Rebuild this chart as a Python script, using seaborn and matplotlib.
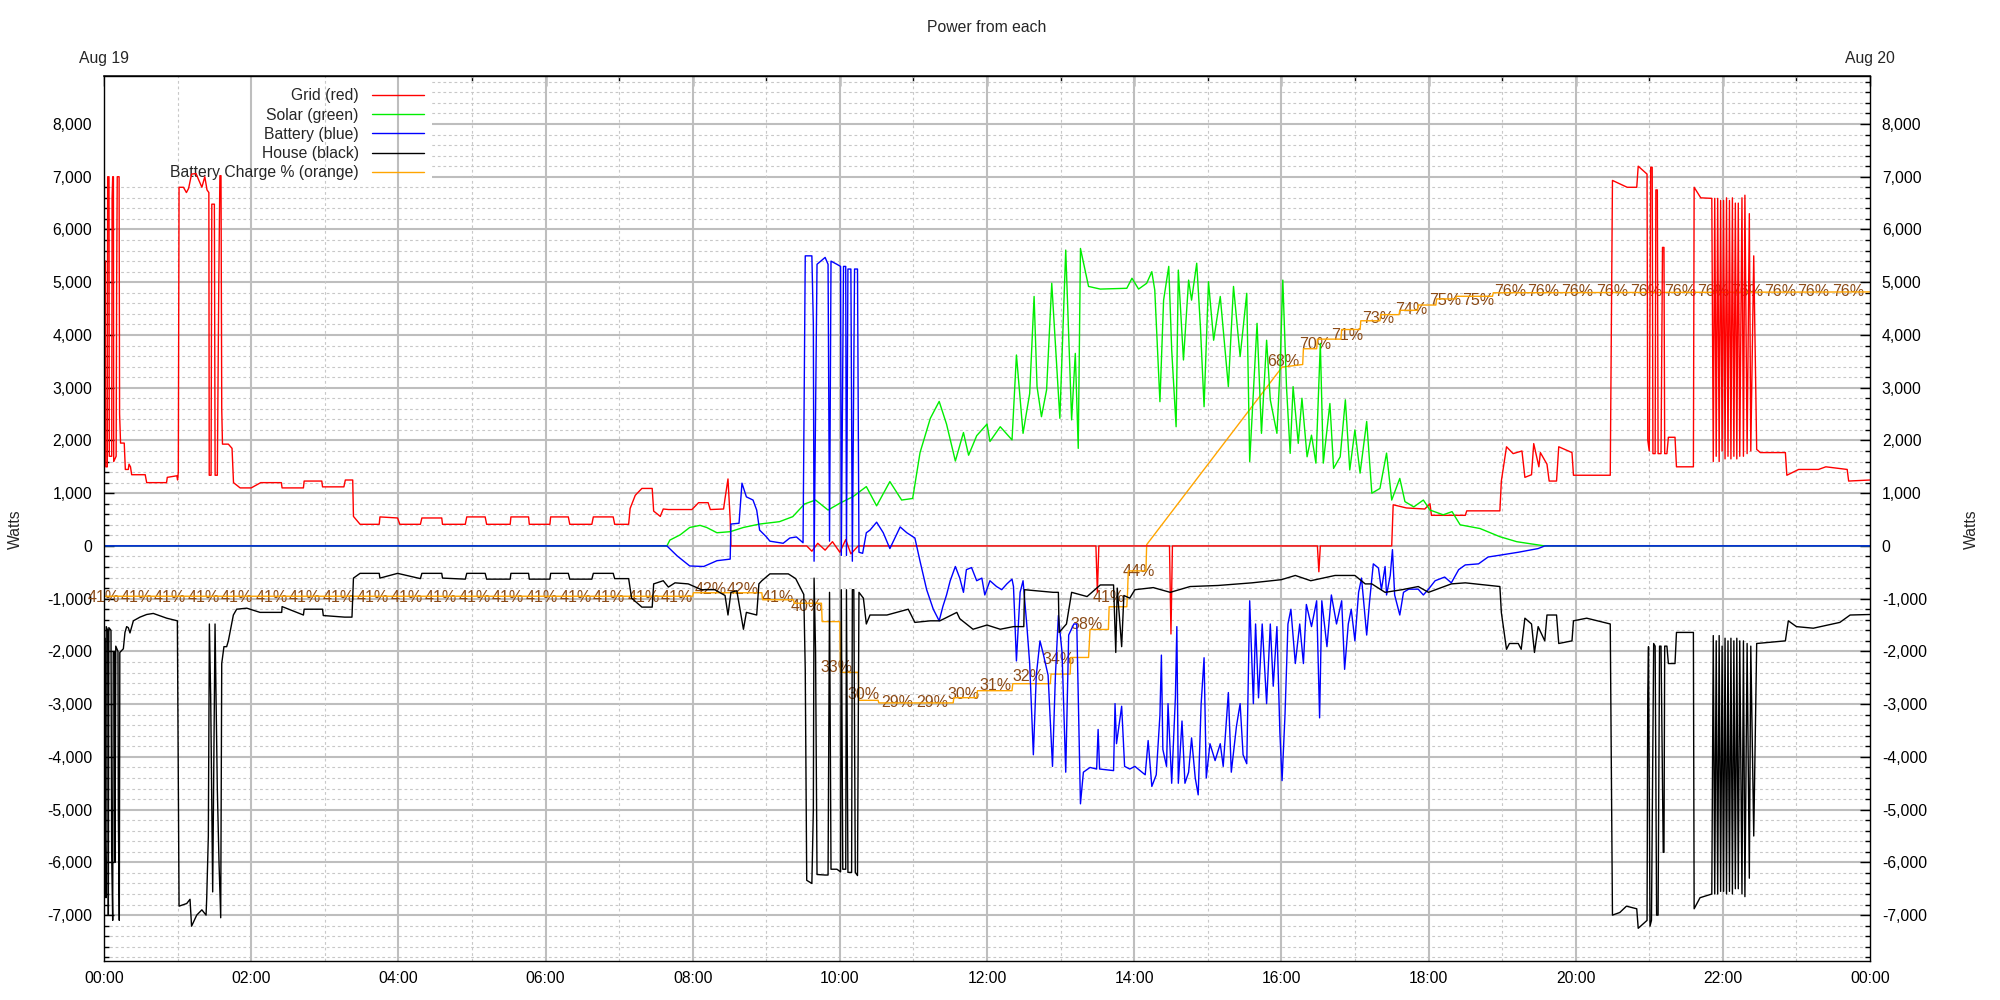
import numpy as np
import pandas as pd
import seaborn as sns
import matplotlib.pyplot as plt
from matplotlib.ticker import MultipleLocator, FuncFormatter
from matplotlib.patches import Rectangle

# Hours since midnight (Aug 19) and Watts
grid_t = [0.000, 0.020, 0.024, 0.045, 0.050, 0.068, 0.072, 0.105, 0.110, 0.118, 0.128, 0.132, 0.165, 0.172,
          0.180, 0.205, 0.212, 0.225, 0.275, 0.290, 0.330, 0.340, 0.360, 0.376, 0.560, 0.580, 0.850, 0.860,
          0.990, 1.000, 1.010, 1.020, 1.080, 1.120, 1.150, 1.190, 1.250, 1.300, 1.330, 1.370, 1.400, 1.425,
          1.430, 1.455, 1.465, 1.500, 1.510, 1.540, 1.560, 1.575, 1.590, 1.600, 1.610, 1.690, 1.740, 1.760,
          1.850, 2.000, 2.130, 2.410, 2.420, 2.710, 2.720, 2.960, 2.970, 3.260, 3.280, 3.380, 3.390, 3.480,
          3.740, 3.750, 3.990, 4.020, 4.300, 4.320, 4.590, 4.600, 4.910, 4.930, 5.180, 5.200, 5.520, 5.530,
          5.770, 5.780, 6.060, 6.070, 6.310, 6.330, 6.630, 6.650, 6.920, 6.940, 7.130, 7.150, 7.220, 7.310,
          7.450, 7.470, 7.560, 7.600, 7.670, 7.990, 8.080, 8.210, 8.240, 8.420, 8.440, 8.480, 8.510, 8.520,
          9.550, 9.620, 9.700, 9.800, 9.900, 10.000, 10.080, 10.150, 10.250, 13.480, 13.500, 13.520, 14.480,
          14.500, 14.520, 16.490, 16.510, 16.530, 17.500, 17.520, 17.700, 17.950, 18.020, 18.040, 18.500,
          18.520, 18.970, 18.990, 19.060, 19.150, 19.270, 19.310, 19.400, 19.430, 19.500, 19.520, 19.610,
          19.640, 19.740, 19.770, 19.950, 19.970, 20.470, 20.500, 20.700, 20.830, 20.850, 20.970, 20.980,
          21.000, 21.020, 21.040, 21.050, 21.080, 21.090, 21.110, 21.120, 21.160, 21.180, 21.200, 21.210,
          21.240, 21.260, 21.350, 21.370, 21.600, 21.610, 21.700, 21.850, 21.870, 21.890, 21.910, 21.930,
          21.950, 21.970, 21.990, 22.010, 22.030, 22.050, 22.070, 22.090, 22.110, 22.130, 22.150, 22.170,
          22.190, 22.210, 22.230, 22.260, 22.280, 22.300, 22.330, 22.360, 22.380, 22.420, 22.460, 22.510,
          22.850, 22.870, 23.030, 23.300, 23.400, 23.690, 23.710, 24.000]
grid_w = [5400, 5400, 1500, 1500, 7000, 7000, 1700, 1700, 6600, 7000, 7000, 1600, 1700, 5000,
          7000, 7000, 2500, 1950, 1950, 1450, 1450, 1550, 1500, 1350, 1350, 1200, 1200, 1300,
          1330, 1250, 1400, 6800, 6800, 6700, 6780, 7050, 7060, 6900, 6800, 7000, 6750, 6700,
          1340, 1340, 6480, 6480, 1340, 1340, 5000, 7020, 7020, 2600, 1930, 1930, 1850, 1200,
          1100, 1100, 1200, 1200, 1100, 1100, 1230, 1230, 1120, 1120, 1250, 1250, 560, 410,
          410, 550, 530, 410, 410, 530, 530, 410, 410, 550, 550, 410, 410, 550,
          550, 410, 410, 550, 550, 410, 410, 550, 550, 410, 410, 710, 960, 1090,
          1090, 660, 560, 700, 690, 690, 820, 820, 690, 700, 900, 1270, 500, 0,
          0, -100, 50, -80, 80, -120, 120, -150, 0, 0, -880, 0, 0,
          -1670, 0, 0, -490, 0, 0, 780, 720, 700, 800, 580, 580,
          665, 665, 1230, 1880, 1750, 1800, 1300, 1350, 1940, 1500, 1770, 1550,
          1230, 1230, 1880, 1770, 1340, 1340, 6930, 6800, 6800, 7200, 7050, 2000,
          1800, 7180, 7180, 1750, 1750, 6750, 6750, 1750, 1750, 5660, 5660, 1750,
          1750, 2060, 2060, 1500, 1500, 6800, 6600, 6590, 1600, 6590, 1700, 6590,
          1600, 6550, 1800, 6550, 1650, 6600, 1700, 6550, 1650, 6600, 1700, 6500,
          1650, 6500, 1700, 6600, 1700, 6650, 1750, 6300, 1800, 5500, 1830, 1770,
          1770, 1340, 1450, 1450, 1500, 1450, 1230, 1250]

solar_t = [0.00, 7.65, 7.69, 7.83, 7.96, 8.10, 8.19, 8.33, 8.51, 8.69, 8.91, 9.18, 9.36, 9.52, 9.67, 9.84,
           10.00, 10.18, 10.36, 10.50, 10.68, 10.84, 10.99, 11.09, 11.23, 11.35, 11.45, 11.57, 11.68, 11.75,
           11.86, 12.00, 12.04, 12.18, 12.34, 12.40, 12.49, 12.58, 12.64, 12.68, 12.74, 12.81, 12.88, 12.99,
           13.07, 13.15, 13.20, 13.24, 13.27, 13.38, 13.54, 13.90, 13.97, 14.06, 14.17, 14.24, 14.28, 14.35,
           14.40, 14.47, 14.51, 14.57, 14.60, 14.67, 14.74, 14.78, 14.85, 14.90, 14.95, 15.01, 15.08, 15.17,
           15.28, 15.35, 15.44, 15.53, 15.57, 15.67, 15.73, 15.80, 15.85, 15.94, 15.98, 16.02, 16.07, 16.12,
           16.16, 16.23, 16.28, 16.35, 16.41, 16.47, 16.53, 16.57, 16.66, 16.71, 16.80, 16.87, 16.93, 17.00,
           17.07, 17.16, 17.23, 17.34, 17.43, 17.50, 17.61, 17.68, 17.80, 17.93, 18.02, 18.20, 18.32, 18.43,
           18.70, 18.97, 19.20, 19.58, 24.00]
solar_w = [0, 0, 110, 210, 350, 390, 350, 250, 270, 350, 415, 460, 555, 795, 870, 680,
           810, 935, 1125, 760, 1220, 870, 900, 1770, 2420, 2740, 2310, 1610, 2150, 1720,
           2090, 2310, 1980, 2260, 2010, 3620, 2135, 2890, 4730, 3020, 2450, 2960, 4980, 2420,
           5610, 2390, 3650, 1850, 5640, 4920, 4870, 4885, 5075, 4870, 4980, 5200, 4850, 2735,
           4660, 5300, 3715, 2260, 5230, 3525, 5040, 4660, 5360, 4160, 2640, 5010, 3900, 4730,
           3020, 4920, 3590, 4790, 1600, 4220, 2135, 3900, 2770, 2135, 3270, 5040, 3020, 1755,
           3020, 1945, 2800, 1690, 2100, 1570, 3840, 1570, 2700, 1470, 1690, 2770, 1440, 2200,
           1380, 2360, 1000, 1090, 1760, 870, 1280, 840, 740, 870, 680, 590, 650, 400,
           330, 175, 80, 0, 0]

battery_t = [0.00, 7.65, 7.79, 7.96, 8.15, 8.33, 8.51, 8.52, 8.63, 8.67, 8.73, 8.82, 8.87, 8.91, 9.00, 9.05,
             9.23, 9.32, 9.41, 9.50, 9.53, 9.62, 9.64, 9.65, 9.69, 9.80, 9.84, 9.85, 9.86, 9.88, 9.96,
             10.01, 10.02, 10.05, 10.08, 10.09, 10.11, 10.15, 10.17, 10.20, 10.24, 10.26, 10.31, 10.36, 10.41,
             10.50, 10.59, 10.68, 10.82, 10.91, 11.02, 11.09, 11.18, 11.27, 11.35, 11.40, 11.45, 11.50, 11.57,
             11.63, 11.68, 11.72, 11.79, 11.86, 11.93, 11.97, 12.04, 12.13, 12.20, 12.27, 12.34, 12.36, 12.40,
             12.45, 12.49, 12.54, 12.58, 12.63, 12.67, 12.72, 12.76, 12.83, 12.89, 12.93, 12.97, 13.02, 13.07,
             13.11, 13.18, 13.22, 13.27, 13.31, 13.40, 13.49, 13.51, 13.53, 13.72, 13.74, 13.76, 13.83, 13.87,
             13.94, 14.01, 14.15, 14.19, 14.24, 14.30, 14.35, 14.37, 14.39, 14.44, 14.46, 14.51, 14.56, 14.58,
             14.60, 14.65, 14.69, 14.74, 14.78, 14.83, 14.87, 14.91, 14.95, 14.98, 15.03, 15.10, 15.17, 15.21,
             15.28, 15.32, 15.39, 15.44, 15.48, 15.53, 15.57, 15.62, 15.65, 15.69, 15.74, 15.80, 15.85, 15.89,
             15.94, 15.98, 16.01, 16.05, 16.09, 16.13, 16.19, 16.25, 16.30, 16.34, 16.41, 16.48, 16.52, 16.55,
             16.62, 16.68, 16.75, 16.82, 16.86, 16.91, 16.95, 17.00, 17.05, 17.09, 17.16, 17.20, 17.25, 17.32,
             17.36, 17.41, 17.43, 17.48, 17.51, 17.54, 17.61, 17.66, 17.73, 17.86, 17.93, 18.00, 18.09, 18.22,
             18.31, 18.41, 18.50, 18.68, 18.81, 18.95, 19.22, 19.49, 19.58, 24.00]
battery_w = [0, 0, -190, -380, -390, -280, -250, 415, 430, 1190, 930, 870, 680, 300, 175, 90,
             50, 150, 170, 60, 5500, 5500, 4200, -290, 5340, 5470, 5340, 2740, 90, 5400, 5340,
             5300, -180, 5300, 5300, -180, 5250, 5250, -290, 5250, 5250, -120, -140, 250, 300,
             450, 250, -50, 360, 250, 150, -290, -830, -1200, -1420, -1150, -930, -660, -390,
             -610, -880, -450, -410, -660, -610, -930, -660, -770, -830, -720, -630, -770, -2180,
             -880, -660, -1480, -2230, -3960, -2450, -1800, -2020, -2450, -4180, -2450, -1320, -2020, -4290,
             -1690, -1480, -1480, -4890, -4290, -4200, -4230, -3480, -4230, -4260, -2990, -3750, -3040, -4180,
             -4230, -4180, -4340, -3690, -4560, -4340, -3210, -2070, -3860, -4180, -2990, -4500, -2880, -1530,
             -4500, -3320, -4500, -4290, -3640, -4400, -4720, -3000, -2120, -4400, -3750, -4070, -3750, -4180,
             -2780, -4290, -3420, -2990, -3960, -4130, -1040, -2990, -1480, -2880, -1480, -2990, -1480, -2660,
             -1530, -3530, -4450, -3200, -1480, -1200, -2230, -1480, -2230, -1110, -1530, -1040, -3260, -1040,
             -1910, -930, -1480, -1040, -2340, -1480, -1200, -1800, -880, -610, -1690, -1040, -340, -420,
             -830, -390, -930, -560, -70, -930, -1310, -880, -820, -820, -930, -820, -660, -590,
             -700, -450, -360, -340, -210, -180, -120, -50, 0, 0]

house_t = [0.000, 0.010, 0.014, 0.027, 0.030, 0.050, 0.059, 0.066, 0.095, 0.104, 0.118, 0.126, 0.145, 0.150,
           0.160, 0.190, 0.195, 0.208, 0.215, 0.263, 0.285, 0.308, 0.330, 0.353, 0.399, 0.489, 0.580, 0.670,
           0.852, 0.997, 1.020, 1.124, 1.169, 1.190, 1.260, 1.330, 1.387, 1.396, 1.418, 1.432, 1.450, 1.477,
           1.509, 1.540, 1.563, 1.586, 1.600, 1.630, 1.667, 1.690, 1.735, 1.758, 1.803, 1.940, 2.120, 2.415,
           2.420, 2.710, 2.720, 2.970, 2.980, 3.270, 3.370, 3.390, 3.480, 3.740, 3.750, 3.990, 4.300, 4.320,
           4.590, 4.600, 4.910, 4.930, 5.180, 5.200, 5.520, 5.530, 5.770, 5.780, 6.060, 6.070, 6.310, 6.330,
           6.630, 6.650, 6.920, 6.940, 7.130, 7.170, 7.310, 7.450, 7.470, 7.600, 7.670, 7.760, 7.940, 8.120,
           8.300, 8.440, 8.480, 8.520, 8.600, 8.690, 8.730, 8.870, 8.900, 8.940, 9.050, 9.300, 9.400, 9.510,
           9.530, 9.550, 9.620, 9.640, 9.650, 9.670, 9.690, 9.800, 9.840, 9.850, 9.860, 9.880, 9.960, 10.010,
           10.020, 10.040, 10.080, 10.090, 10.110, 10.160, 10.170, 10.190, 10.210, 10.240, 10.260, 10.320,
           10.360, 10.410, 10.640, 10.930, 11.020, 11.230, 11.360, 11.590, 11.630, 11.810, 12.000, 12.180,
           12.360, 12.500, 12.510, 12.900, 12.970, 12.980, 13.080, 13.150, 13.360, 13.540, 13.720, 13.750,
           13.770, 13.830, 13.860, 13.940, 14.010, 14.260, 14.490, 14.760, 15.140, 15.600, 16.000, 16.190,
           16.400, 16.730, 17.000, 17.140, 17.230, 17.410, 17.640, 17.860, 18.000, 18.310, 18.500, 18.770,
           18.970, 18.990, 19.060, 19.100, 19.220, 19.260, 19.310, 19.400, 19.440, 19.490, 19.580, 19.610,
           19.740, 19.770, 19.950, 19.970, 20.150, 20.470, 20.500, 20.600, 20.690, 20.830, 20.850, 20.970,
           20.980, 20.990, 21.010, 21.030, 21.060, 21.080, 21.100, 21.120, 21.140, 21.160, 21.190, 21.200,
           21.210, 21.240, 21.260, 21.350, 21.370, 21.600, 21.610, 21.690, 21.850, 21.870, 21.890, 21.910,
           21.930, 21.950, 21.970, 21.990, 22.010, 22.030, 22.050, 22.070, 22.090, 22.110, 22.130, 22.150,
           22.170, 22.190, 22.210, 22.230, 22.260, 22.280, 22.300, 22.330, 22.360, 22.380, 22.420, 22.460,
           22.850, 22.890, 23.000, 23.230, 23.590, 23.730, 24.000]
house_w = [-1750, -1750, -5050, -6670, -1530, -1600, -7000, -1550, -1600, -5810, -7100, -2020, -2000, -6000,
           -1900, -2000, -5100, -7100, -2020, -1950, -1640, -1530, -1550, -1650, -1420, -1350, -1300, -1280,
           -1370, -1420, -6830, -6780, -6700, -7210, -7000, -6900, -7000, -6670, -5500, -1480, -2880, -6560,
           -1480, -4610, -6000, -7050, -2230, -1910, -1910, -1800, -1480, -1310, -1200, -1180, -1260, -1260,
           -1150, -1310, -1200, -1200, -1320, -1350, -1350, -610, -520, -520, -610, -520, -620, -520,
           -520, -610, -630, -520, -520, -630, -630, -520, -520, -630, -630, -520, -520, -630,
           -630, -520, -520, -620, -620, -990, -1160, -1160, -720, -660, -780, -700, -720, -830,
           -830, -940, -1310, -880, -850, -1580, -1260, -1310, -720, -660, -530, -530, -620, -920,
           -2340, -6340, -6400, -5000, -610, -2000, -6230, -6240, -6240, -3530, -880, -6130, -6130, -6180,
           -830, -6130, -6130, -830, -6190, -6190, -830, -830, -6190, -6250, -880, -990,
           -1480, -1310, -1310, -1200, -1450, -1420, -1420, -1260, -1380, -1580, -1500, -1580,
           -1530, -1530, -830, -880, -880, -1640, -1480, -880, -960, -740, -740, -2020,
           -800, -1910, -940, -990, -830, -790, -880, -770, -750, -700, -640, -560,
           -660, -560, -560, -720, -720, -880, -830, -770, -880, -720, -700, -740,
           -770, -1260, -1960, -1850, -1850, -1960, -1370, -1480, -2020, -1530, -1800, -1310,
           -1310, -1850, -1800, -1420, -1370, -1480, -7000, -6950, -6830, -6880, -7250, -7100,
           -2780, -1910, -7210, -7100, -1850, -1900, -7000, -7000, -1900, -1900, -5810, -5810,
           -1900, -1900, -2230, -2230, -1640, -1640, -6880, -6670, -6600, -1700, -6600, -1800,
           -6600, -1700, -6550, -1900, -6550, -1750, -6600, -1800, -6550, -1750, -6600, -1800,
           -6500, -1750, -6500, -1800, -6600, -1800, -6650, -1850, -6300, -1900, -5500, -1850,
           -1800, -1420, -1530, -1560, -1450, -1310, -1300]

# Battery state of charge in percent (plotted against its own 0-100 scale)
charge_t = [0.00, 8.00, 8.01, 8.94, 8.95, 9.37, 9.38, 9.75, 9.76, 10.00, 10.01, 10.25, 10.26, 10.52, 10.53,
            11.54, 11.55, 11.86, 11.87, 12.34, 12.35, 12.86, 12.87, 13.13, 13.14, 13.38, 13.39, 13.40, 13.65,
            13.66, 13.90, 13.91, 13.92, 14.16, 14.17, 16.01, 16.29, 16.30, 16.48, 16.49, 16.81, 16.82, 17.07,
            17.08, 17.34, 17.35, 17.60, 17.61, 17.85, 17.86, 18.10, 18.11, 18.37, 18.38, 18.87, 18.88, 24.00]
charge_pct = [41.2, 41.2, 41.6, 41.6, 40.8, 40.8, 40.4, 40.4, 38.3, 38.3, 32.5, 32.5, 29.3, 29.3, 29.0,
              29.0, 29.6, 29.6, 30.4, 30.4, 31.2, 31.2, 32.3, 32.3, 34.2, 34.2, 35.7, 37.4, 37.4,
              40.0, 40.0, 41.6, 44.1, 44.1, 47.1, 67.4, 67.7, 69.5, 69.5, 70.6, 70.6, 71.7, 71.7,
              72.7, 72.7, 73.4, 73.4, 73.9, 73.9, 74.5, 74.5, 75.2, 75.2, 75.5, 75.5, 75.9, 76.0]

label_t = [0.00, 0.44, 0.90, 1.36, 1.81, 2.28, 2.73, 3.19, 3.65, 4.11, 4.57, 5.04, 5.49, 5.95, 6.41, 6.86,
           7.33, 7.79, 8.24, 8.68, 9.15, 9.55, 9.96, 10.32, 10.78, 11.25, 11.68, 12.11, 12.56, 12.97, 13.36,
           13.65, 14.06, 16.03, 16.46, 16.90, 17.32, 17.76, 18.22, 18.67, 19.11, 19.56, 20.02, 20.49, 20.96,
           21.42, 21.87, 22.33, 22.78, 23.23, 23.70]
label_pct = [41, 41, 41, 41, 41, 41, 41, 41, 41, 41, 41, 41, 41, 41, 41, 41,
             41, 41, 42, 42, 41, 40, 33, 30, 29, 29, 30, 31, 32, 34, 38,
             41, 44, 68, 70, 71, 73, 74, 75, 75, 76, 76, 76, 76, 76,
             76, 76, 76, 76, 76, 76]

series_names = ['Grid (red)', 'Solar (green)', 'Battery (blue)', 'House (black)']
series_colors = ['#ff0000', '#00ee00', '#0000ff', '#000000']
charge_name = 'Battery Charge % (orange)'
charge_color = '#ffa500'
label_color = '#8b4a16'

sns.set_theme(style='white')
plt.rcParams['font.family'] = ['Liberation Sans', 'DejaVu Sans']
FS = 11.3

fig = plt.figure(figsize=(20, 10), dpi=100)
ax = fig.add_axes([0.052, 0.039, 0.883, 0.885])
# invisible twin only supplies the 0-100 % scale for the charge line
ax2 = ax.twinx()
ax2.set_ylim(-0.51, 100.69)
ax2.axis('off')

power = [(grid_t, grid_w), (solar_t, solar_w), (battery_t, battery_w), (house_t, house_w)]
for (t, w), name, col in zip(power, series_names, series_colors):
    sns.lineplot(x=t, y=w, ax=ax, color=col, lw=1.0, estimator=None, sort=False,
                 label=name, zorder=2)

# charge line + labels live under the power lines, drawn in % coordinates
sns.lineplot(x=charge_t, y=charge_pct, ax=ax, color=charge_color, lw=1.0,
             estimator=None, sort=False, label=charge_name,
             transform=ax2.transData, zorder=1.9)
for t, p in zip(label_t, label_pct):
    ax.text(t, p, f'{p}%', ha='center', va='center', color=label_color, fontsize=11.5,
            transform=ax2.transData, zorder=1.8)

ax.set_xlim(0, 24)
ax.set_ylim(-7870, 8910)

# axes, ticks, grid
ax.xaxis.set_major_locator(MultipleLocator(2))
ax.xaxis.set_minor_locator(MultipleLocator(1))
ax.yaxis.set_major_locator(MultipleLocator(1000))
ax.yaxis.set_minor_locator(MultipleLocator(200))
ax.xaxis.set_major_formatter(FuncFormatter(lambda v, p: f'{int(round(v)) % 24:02d}:00'))
ax.yaxis.set_major_formatter(FuncFormatter(lambda v, p: f'{int(round(v)):,}'))
ax.tick_params(which='both', direction='in', top=True, right=True, labelright=True,
               labelsize=FS, colors='black', width=1)
ax.tick_params(which='major', length=7)
ax.tick_params(which='minor', length=3.5)
ax.tick_params(axis='y', pad=8.5)
ax.tick_params(axis='x', pad=7)
ax.set_xlabel('')
ax.set_ylabel('')
for s in ax.spines.values():
    s.set_color('black')
    s.set_linewidth(1.0)

ax.set_axisbelow(True)
ax.grid(axis='y', which='major', color='#bebebe', lw=1.5, ls='-')
ax.grid(axis='y', which='minor', color='#c8c8c8', lw=0.8, ls=(0, (2.5, 2.5)))
for h in range(1, 24):
    if h % 2 == 0:
        ax.axvline(h, color='#bebebe', lw=1.5, zorder=1.2)
    else:
        ax.axvline(h, color='#c8c8c8', lw=0.8, ls=(0, (2.5, 2.5)), zorder=1.2)

# key area hides the horizontal grid like the original
ax.add_patch(Rectangle((0, 0.879), 0.186, 0.121, transform=ax.transAxes,
                       facecolor='white', edgecolor='none', zorder=1.0))

handles, labels = ax.get_legend_handles_labels()
leg = ax.legend(handles, labels, loc='upper right', bbox_to_anchor=(0.1812, 0.986),
                markerfirst=False, frameon=False, fontsize=FS, handlelength=3.3,
                handletextpad=0.85, labelspacing=0.27, borderpad=0, borderaxespad=0)
leg.set_zorder(1.5)

top = ax.secondary_xaxis('top')
top.set_xticks([0, 24], labels=['Aug 19', 'Aug 20'])
top.tick_params(length=0, pad=7.5, labelsize=FS)

fig.text(0.4935, 0.9727, 'Power from each', ha='center', va='center', fontsize=FS)
fig.text(0.0075, 0.471, 'Watts', ha='center', va='center', rotation=90, fontsize=FS)
fig.text(0.9855, 0.471, 'Watts', ha='center', va='center', rotation=90, fontsize=FS)

fig.savefig('out.png', dpi=100)
